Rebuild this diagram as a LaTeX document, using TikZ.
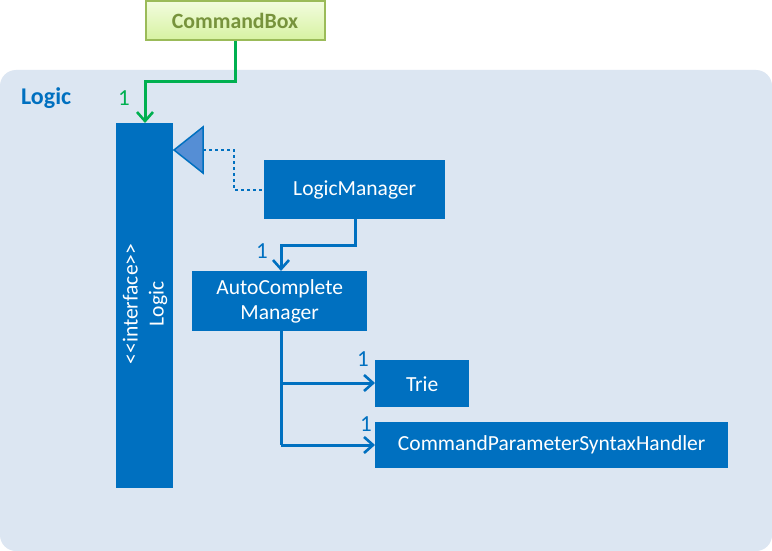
\documentclass[tikz,border=0pt]{standalone}
\usepackage{fontspec}
\setmainfont{Carlito}[Ligatures=NoCommon]
\usetikzlibrary{arrows.meta}
\definecolor{bluebox}{RGB}{0,112,192}
\definecolor{panel}{RGB}{220,230,242}
\definecolor{greenline}{RGB}{0,176,80}
\definecolor{gboxborder}{RGB}{155,187,89}
\definecolor{gboxtext}{RGB}{119,147,60}
\definecolor{gtop}{RGB}{242,252,222}
\definecolor{gbot}{RGB}{214,242,160}
\definecolor{tri}{RGB}{85,142,213}
\begin{document}
\begin{tikzpicture}[x=1pt,y=-1pt,
  cls/.style={fill=bluebox, text=white, font=\fontsize{21.5}{24}\selectfont, inner sep=0pt, anchor=north west, align=center},
  conn/.style={draw=bluebox, line width=3pt},
  openarrow/.style={-{Straight Barb[length=9pt,width=16pt,line width=2.6pt]}},
  mult/.style={font=\fontsize{23}{25}\selectfont, inner sep=0pt}
]
\useasboundingbox (0,0) rectangle (772,551);
\fill[white] (0,0) rectangle (772,551);
\fill[panel, rounded corners=16pt] (0,70) rectangle (772,551);
\node[font=\bfseries\fontsize{24}{26}\selectfont, text=bluebox, anchor=west, inner sep=0pt] (logictitle) at (21,98) {Logic};

% CommandBox
\node[draw=gboxborder, line width=2pt, top color=gtop, bottom color=gbot, text=gboxtext,
  font=\bfseries\fontsize{21.8}{24}\selectfont, minimum width=179pt, minimum height=39pt, inner sep=0pt] (cbox) at (235,21) {CommandBox};

% Logic interface
\node[cls, minimum width=57pt, minimum height=365pt] (logic) at (116,123) {};
\node[rotate=90, text=white, font=\fontsize{21.5}{26}\selectfont, align=center, inner sep=0pt] (logiclbl) at (145,304) {{<}{<}interface{>}{>}\\Logic};

% Classes
\node[cls, minimum width=181pt, minimum height=59pt] (lm) at (264,160) {LogicManager};
\node[cls, minimum width=175pt, minimum height=60pt] (acm) at (192,271) {AutoComplete\\[1pt]Manager};
\node[cls, minimum width=94pt, minimum height=47pt] (trie) at (375,360) {Trie};
\node[cls, minimum width=353pt, minimum height=46pt] (cpsh) at (375,422) {CommandParameterSyntaxHandler};

% CommandBox -> Logic
\draw[draw=greenline, line width=3pt, openarrow] (cbox.south) -- (235,82) -- (145,82) -- (logic.north -| 145,0);
\node[mult, text=greenline] (m0) at (124,98) {1};

% Realization
\coordinate (tritip) at (174,150);
\draw[bluebox, line width=2.8pt, dash pattern=on 3pt off 3pt] (203,150) -- (234,150) -- (234,190) -- (lm.west |- 0,190);
\draw[draw=bluebox, fill=tri, line width=1.5pt, line join=miter] (tritip) -- (203,127) -- (203,173) -- cycle;

% LogicManager -> ACM
\draw[conn, openarrow] (lm.south -| 355,0) -- (355,245) -- (281,245) -- (acm.north -| 281,0);
\node[mult, text=bluebox] (m1) at (262,251) {1};

% ACM -> Trie, CPSH
\draw[conn] (acm.south -| 281,0) -- (281,445);
\draw[conn, openarrow] (281,383) -- (trie.west |- 0,383);
\draw[conn, openarrow] (281,445) -- (cpsh.west |- 0,445);
\node[mult, text=bluebox] (m2) at (363,359) {1};
\node[mult, text=bluebox] (m3) at (366,424) {1};
\end{tikzpicture}
\end{document}
